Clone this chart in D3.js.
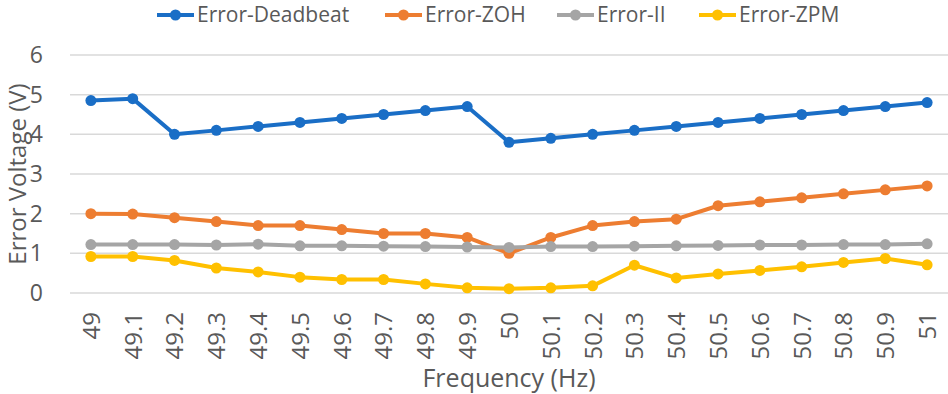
<!DOCTYPE html>
<html>
<head>
<meta charset="utf-8">
<script src="https://cdn.jsdelivr.net/npm/d3@7"></script>
<style>
  body { margin: 0; background: #fff; }
  svg text { font-family: "Open Sans", "Noto Sans", sans-serif; fill: #595959; }
</style>
</head>
<body>
<div id="chart"></div>
<script>
// Frequency categories
const frequencies = ["49", "49.1", "49.2", "49.3", "49.4", "49.5", "49.6", "49.7", "49.8", "49.9", "50",
    "50.1", "50.2", "50.3", "50.4", "50.5", "50.6", "50.7", "50.8", "50.9", "51"];

// Series values (V)
const deadbeat = [4.85, 4.9, 4.0, 4.1, 4.2, 4.3, 4.4, 4.5, 4.6, 4.7, 3.8,
    3.9, 4.0, 4.1, 4.2, 4.3, 4.4, 4.5, 4.6, 4.7, 4.8];
const zoh = [2.0, 1.99, 1.9, 1.8, 1.7, 1.7, 1.6, 1.5, 1.5, 1.4, 1.0,
    1.4, 1.7, 1.8, 1.86, 2.2, 2.3, 2.4, 2.5, 2.6, 2.7];
const errII = [1.22, 1.22, 1.22, 1.21, 1.23, 1.19, 1.19, 1.18, 1.17, 1.16, 1.15,
    1.17, 1.17, 1.18, 1.19, 1.2, 1.21, 1.21, 1.22, 1.22, 1.24];
const zpm = [0.92, 0.92, 0.82, 0.63, 0.53, 0.4, 0.34, 0.34, 0.23, 0.13, 0.11,
    0.13, 0.18, 0.7, 0.38, 0.48, 0.57, 0.66, 0.77, 0.87, 0.71];

const yTicks = [0, 1, 2, 3, 4, 5, 6];

const seriesNames = ["Error-Deadbeat", "Error-ZOH", "Error-II", "Error-ZPM"];
const seriesColors = ["#1a6ec6", "#ed7d31", "#a5a5a5", "#ffc000"];

function createChart() {
    const W = 948, H = 394;
    const margin = { top: 55, right: 0, bottom: 101, left: 70 };
    const width = W - margin.left - margin.right;
    const height = H - margin.top - margin.bottom;

    const series = [deadbeat, zoh, errII, zpm].map((vals, i) => ({
        name: seriesNames[i],
        color: seriesColors[i],
        values: vals.map((v, j) => ({ f: frequencies[j], v: v }))
    }));

    const root = d3.select("#chart")
        .append("svg")
        .attr("width", W)
        .attr("height", H);

    const svg = root.append("g")
        .attr("transform", `translate(${margin.left},${margin.top})`);

    // Échelles
    const x = d3.scalePoint()
        .domain(frequencies)
        .range([0, width])
        .padding(0.5);

    const y = d3.scaleLinear()
        .domain([0, 6])
        .range([height, 0]);

    // Grille
    svg.append("g")
        .selectAll("line")
        .data(yTicks)
        .enter()
        .append("line")
        .attr("x1", 0)
        .attr("x2", width)
        .attr("y1", d => y(d))
        .attr("y2", d => y(d))
        .attr("stroke", "#d9d9d9")
        .attr("stroke-width", 1.5);

    // Axe Y
    const yAxis = svg.append("g")
        .call(d3.axisLeft(y).tickValues(yTicks).tickFormat(d3.format("d")).tickSize(0).tickPadding(27));
    yAxis.select(".domain").remove();
    yAxis.selectAll("text").style("font-size", "23px");

    // Axe X
    const xAxis = svg.append("g")
        .attr("transform", `translate(0,${height})`)
        .call(d3.axisBottom(x).tickSize(0));
    xAxis.select(".domain").remove();
    xAxis.selectAll("text")
        .style("font-size", "24px")
        .attr("transform", "rotate(-90)")
        .attr("text-anchor", "end")
        .attr("x", -19)
        .attr("y", 0)
        .attr("dy", "0.35em");

    // Titres des axes
    root.append("text")
        .attr("transform", `translate(26,${margin.top + height / 2}) rotate(-90)`)
        .attr("text-anchor", "middle")
        .style("font-size", "24px")
        .text("Error Voltage (V)");

    root.append("text")
        .attr("x", margin.left + width / 2)
        .attr("y", 387)
        .attr("text-anchor", "middle")
        .style("font-size", "25px")
        .text("Frequency (Hz)");

    // Lignes
    const line = d3.line()
        .x(d => x(d.f))
        .y(d => y(d.v));

    series.forEach(s => {
        svg.append("path")
            .datum(s.values)
            .attr("fill", "none")
            .attr("stroke", s.color)
            .attr("stroke-width", 4)
            .attr("stroke-linejoin", "round")
            .attr("d", line);

        svg.selectAll(null)
            .data(s.values)
            .enter()
            .append("circle")
            .attr("cx", d => x(d.f))
            .attr("cy", d => y(d.v))
            .attr("r", 5.5)
            .attr("fill", s.color);
    });

    // Légende
    const legendX = [157, 385, 557, 699];
    const legend = root.append("g").attr("class", "legend");
    series.forEach((s, i) => {
        const g = legend.append("g")
            .attr("transform", `translate(${legendX[i]},15)`);
        g.append("line")
            .attr("x1", 0).attr("x2", 37)
            .attr("stroke", s.color)
            .attr("stroke-width", 4);
        g.append("circle")
            .attr("cx", 18.5)
            .attr("r", 5.5)
            .attr("fill", s.color);
        g.append("text")
            .attr("x", 40)
            .attr("y", 7)
            .style("font-size", "21px")
            .text(s.name);
    });
}

createChart();
</script>
</body>
</html>
